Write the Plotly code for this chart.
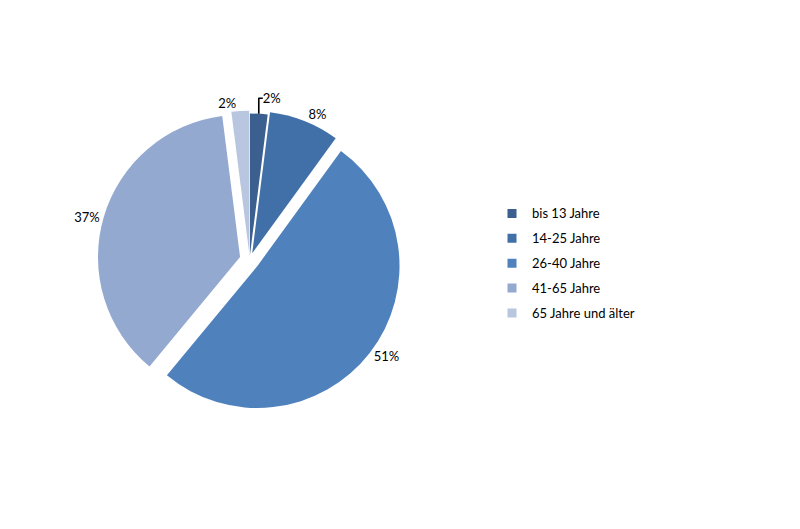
import plotly.graph_objects as go

# Altersgruppen und Anteile (in %)
gruppen = ["bis 13 Jahre", "14-25 Jahre", "26-40 Jahre", "41-65 Jahre", "65 Jahre und älter"]
anteile = [2, 8, 51, 37, 2]
farben = ["#3B5F8E", "#4170A8", "#4F81BD", "#94A9CF", "#B9C6E0"]
pulls = [0.03, 0.05, 0.07, 0.07, 0.05]

fig = go.Figure()

fig.add_trace(go.Pie(
    labels=gruppen,
    values=anteile,
    sort=False,
    direction="clockwise",
    rotation=0,
    pull=pulls,
    marker=dict(colors=farben, line=dict(color="white", width=0)),
    textinfo="percent",
    texttemplate="%{percent:.0%}",
    textposition="outside",
    textfont=dict(family="Lato", size=13, color="#000000"),
    domain=dict(x=[0.112, 0.492], y=[0.234, 0.814]),
    hoverinfo="label+percent",
    showlegend=False,
))

# Legende mit etwas mehr Abstand zwischen den Einträgen
for name, farbe in zip(gruppen, farben):
    fig.add_trace(go.Scatter(
        x=[None], y=[None],
        mode="markers",
        name=name,
        legendgroup=name,
        marker=dict(symbol="square", size=9, color=farbe),
    ))

fig.update_layout(
    width=800,
    height=529,
    paper_bgcolor="white",
    plot_bgcolor="white",
    margin=dict(l=0, r=0, t=0, b=0),
    showlegend=True,
    xaxis=dict(visible=False),
    yaxis=dict(visible=False),
    legend=dict(
        x=0.605, y=0.64, xanchor="left", yanchor="top",
        font=dict(family="Lato", size=13, color="#000000"),
        itemwidth=30,
        tracegroupgap=5,
    ),
)

fig.write_html("out.html")
